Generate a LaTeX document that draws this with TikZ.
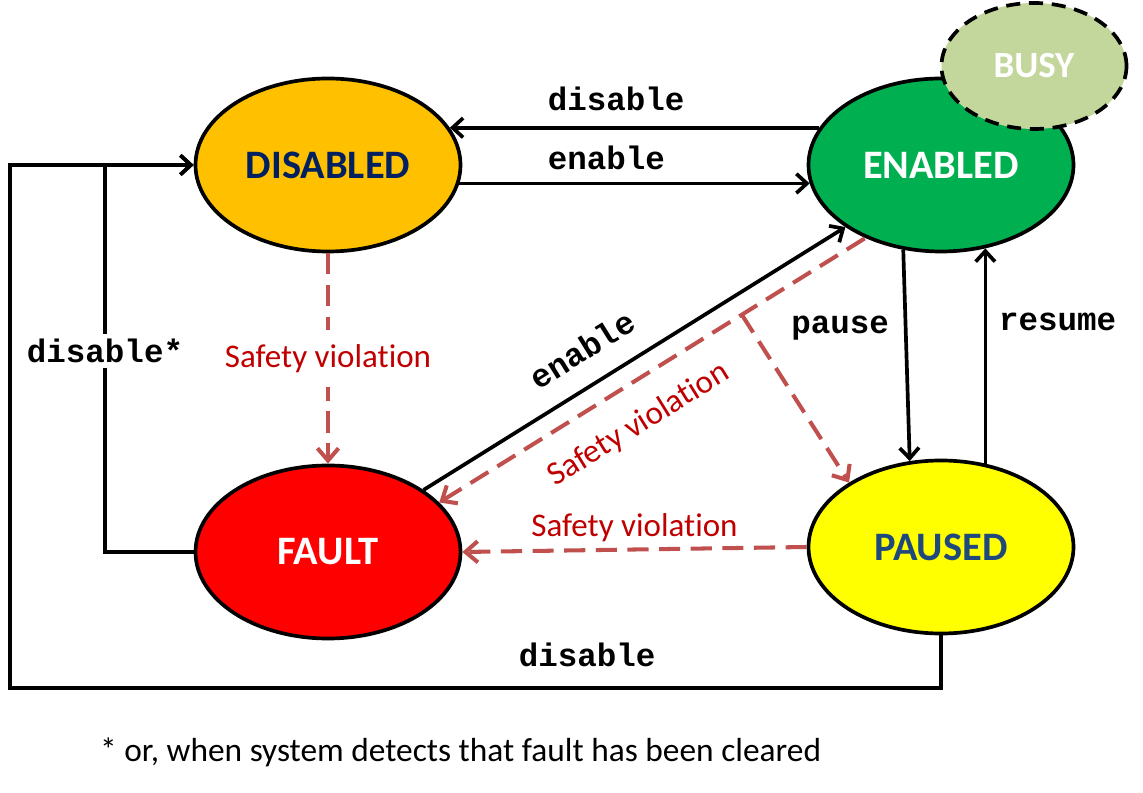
\documentclass[tikz,border=0pt]{standalone}
\usepackage{fontspec}
\setmainfont{Carlito}[Ligatures=NoCommon]
\newfontfamily\codefont{Liberation Mono}
\usetikzlibrary{shapes.geometric,arrows.meta,positioning}

\definecolor{disabledfill}{HTML}{FFC000}
\definecolor{disabledtext}{HTML}{002060}
\definecolor{enabledfill}{HTML}{00B050}
\definecolor{busyfill}{HTML}{C3D69B}
\definecolor{faultfill}{HTML}{FF0000}
\definecolor{pausedfill}{HTML}{FFFF00}
\definecolor{pausedtext}{HTML}{1F497D}
\definecolor{violline}{HTML}{C0504D}
\definecolor{violtext}{HTML}{C00000}

\tikzset{
  state/.style={ellipse, draw, line width=2.1pt, minimum width=5.3cm, minimum height=3.46cm, inner sep=0pt, font=\fontsize{23}{28}\selectfont\bfseries},
  trans/.style={->, line width=2.1pt},
  violation/.style={->, draw=violline, line width=2.3pt, dash pattern=on 12pt off 6pt, >={Straight Barb[length=7pt,width=12pt]}},
  cmd/.style={font=\codefont\bfseries\fontsize{18.5}{22}\selectfont, inner sep=0pt, text=black},
  violabel/.style={font=\fontsize{18.8}{22}\selectfont, text=violtext, inner sep=0pt},
}

\begin{document}
\begin{tikzpicture}[>={Straight Barb[length=6pt,width=11pt]}]
    \useasboundingbox (0,0) rectangle (22.86,-15.86);

    \node[state, fill=disabledfill, text=disabledtext] (disabled) at (6.56,-3.30) {DISABLED};
    \node[state, fill=enabledfill, text=white, right of=disabled, node distance=12.26cm] (enabled) {ENABLED};
    \node[state, fill=faultfill, text=white, below of=disabled, node distance=7.74cm] (fault) {FAULT};
    \node[state, fill=pausedfill, text=pausedtext, below of=enabled, node distance=7.64cm] (paused) {PAUSED};
    \node[state, fill=busyfill, text=white, dash pattern=on 8pt off 5pt, minimum width=3.7cm, minimum height=2.52cm,
          font=\fontsize{21}{25}\selectfont\bfseries] (busy) at ([shift={(1.86,1.98)}]enabled.center) {BUSY};

    \coordinate (join) at (2.10,-3.30);
    \coordinate (outer) at (0.20,-13.76);

    \path[trans]
    (enabled.163) edge node[cmd, pos=0.55, above=0.31cm] (ldisable) {disable} (disabled.17)
    (disabled.-8) edge node[cmd, pos=0.42, above=0.23cm] (lenable) {enable} (enabled.188)
    (fault.33) edge node[cmd, sloped, pos=0.42, above=0.43cm] (lenablediag) {enable} (enabled.213)
    (enabled.246) edge node[cmd, pos=0.37, left=0.3cm] (lpause) {pause} (paused.110)
    (paused.62) edge node[cmd, pos=0.66, right=0.24cm] (lresume) {resume} (enabled.-62);

    \draw[trans] (fault.west) -| node[cmd, pos=0.76, fill=white, inner sep=3pt] (ldisablestar) {disable*} (join) -- (disabled.west);
    \draw[trans] (paused.south) |- node[cmd, pos=0.69, above=0.38cm] (ldisablebottom) {disable} (outer) |- (disabled.west);

    %\node[below of=fault] (ph) {};

    \draw[violation] (disabled.south) -- node[violabel, fill=white, inner xsep=2pt, inner ysep=8pt] (lviolfault) {Safety violation} (fault.north);
    \draw[violation] (paused.west) -- node[violabel, above=0.12cm] (lviolpaused) {Safety violation} (fault.east);
    \draw[violation, <-] (fault.24) -- node[violabel, sloped, pos=0.42, below=0.46cm] (lvioldiag) {Safety violation} coordinate[pos=0.71] (branch) (enabled.224);
    \draw[violation] (branch) -- (paused.145);

    \node[anchor=west, font=\fontsize{19}{23}\selectfont] (note) at (1.88,-15.04) {* or, when system detects that fault has been cleared};
\end{tikzpicture}
\end{document}
